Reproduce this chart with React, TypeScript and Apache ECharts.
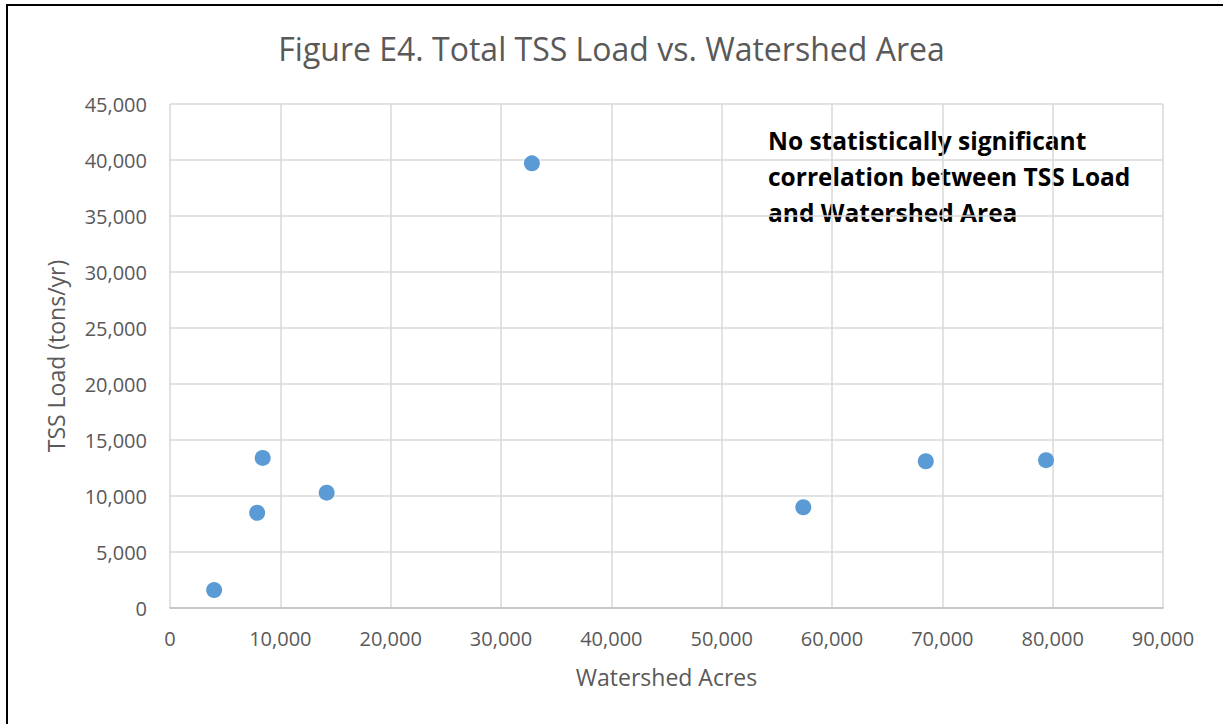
import React, { useEffect, useRef } from "react";
import * as echarts from "echarts";

const titleText = "Figure E4. Total TSS Load vs. Watershed Area";
const xAxisName = "Watershed Acres";
const yAxisName = "TSS Load (tons/yr)";
const noteLines = [
  "No statistically significant",
  "correlation between TSS Load",
  "and Watershed Area",
];
const watershedAcres = [4000, 7900, 8400, 14200, 32800, 57400, 68500, 79400];
const tssLoad = [1600, 8500, 13400, 10300, 39700, 9000, 13100, 13200];

const FONT = "'Open Sans', sans-serif";

export default function App() {
  const ref = useRef<HTMLDivElement>(null);
  useEffect(() => {
    if (!ref.current) return;
    const chart = echarts.init(ref.current, undefined, { renderer: "svg" });
    const fmt = (v: number) => v.toLocaleString("en-US");
    chart.setOption({
      animation: false,
      backgroundColor: "#ffffff",
      title: {
        text: titleText,
        left: "center",
        top: 27,
        textStyle: { fontFamily: FONT, fontSize: 32, fontWeight: "normal", color: "#595959" },
      },
      grid: { left: 170, right: 60, top: 104, bottom: 116 },
      xAxis: {
        type: "value",
        min: 0,
        max: 90000,
        interval: 10000,
        name: xAxisName,
        nameLocation: "middle",
        nameGap: 57,
        nameTextStyle: { fontFamily: FONT, fontSize: 23, color: "#595959" },
        axisLine: { show: true, lineStyle: { color: "#BFBFBF", width: 1.5 } },
        axisTick: { show: false },
        axisLabel: { fontFamily: FONT, fontSize: 20, color: "#595959", margin: 20, formatter: fmt },
        splitLine: { show: true, lineStyle: { color: "#D9D9D9", width: 1.5 } },
      },
      yAxis: {
        type: "value",
        min: 0,
        max: 45000,
        interval: 5000,
        name: yAxisName,
        nameLocation: "middle",
        nameGap: 103,
        nameTextStyle: { fontFamily: FONT, fontSize: 23, color: "#595959" },
        axisLine: { show: false },
        axisTick: { show: false },
        axisLabel: { fontFamily: FONT, fontSize: 20, color: "#595959", margin: 23, formatter: fmt },
        splitLine: { show: true, lineStyle: { color: "#D9D9D9", width: 1.5 } },
      },
      series: [
        {
          type: "scatter",
          data: watershedAcres.map((x, i) => [x, tssLoad[i]]),
          symbol: "circle",
          symbolSize: 16,
          itemStyle: { color: "#5B9BD5", opacity: 1 },
        },
      ],
      graphic: [
        {
          type: "rect",
          shape: { x: 7, y: 5, width: 1240, height: 760 },
          style: { fill: "none", stroke: "#000000", lineWidth: 2 },
          silent: true,
        },
        {
          type: "text",
          left: 768,
          top: 122,
          style: {
            text: noteLines.join("\n"),
            font: `bold 24.5px ${FONT}`,
            fill: "#000000",
            lineHeight: 36,
          },
        },
      ],
    });
    return () => chart.dispose();
  }, []);
  return (
    <div
      ref={ref}
      style={{ position: "absolute", left: 0, top: 0, width: 1223, height: 724 }}
    />
  );
}
